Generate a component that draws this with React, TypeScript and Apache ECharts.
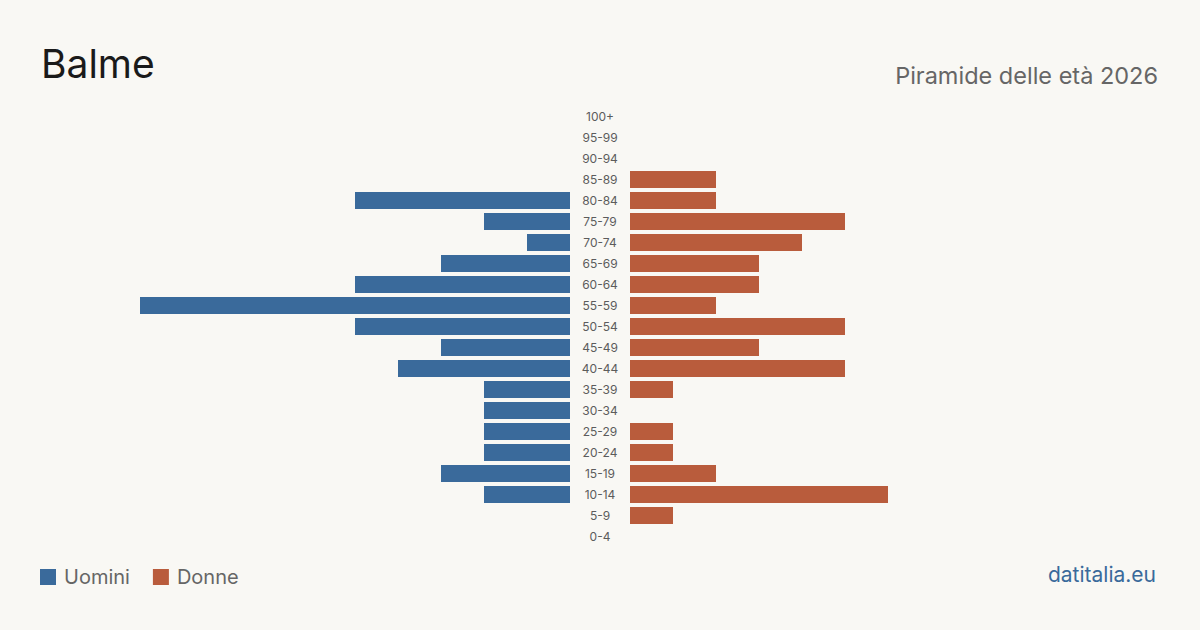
import React, { useEffect, useRef } from "react";
import * as echarts from "echarts";

// Age groups, youngest first (category axis runs bottom to top)
const ageGroups = [
  "0-4", "5-9", "10-14", "15-19", "20-24", "25-29", "30-34", "35-39", "40-44",
  "45-49", "50-54", "55-59", "60-64", "65-69", "70-74", "75-79", "80-84",
  "85-89", "90-94", "95-99", "100+",
];

// Residents per age group
const men = [0, 0, 2, 3, 2, 2, 2, 2, 4, 3, 5, 10, 5, 3, 1, 2, 5, 0, 0, 0, 0];
const women = [0, 1, 6, 2, 1, 1, 0, 1, 5, 3, 5, 2, 3, 3, 4, 5, 2, 2, 0, 0, 0];

const axisMax = 10;

const BG = "#f9f8f4";
const BLUE = "#3a6a9b";
const RED = "#b95c3c";
const FONT = "Inter, 'Noto Sans', sans-serif";

export default function App() {
  const ref = useRef<HTMLDivElement>(null);

  useEffect(() => {
    if (!ref.current) return;
    const chart = echarts.init(ref.current, undefined, { renderer: "svg" });

    const gridTop = 106;
    const gridHeight = 441;

    chart.setOption({
      animation: false,
      backgroundColor: BG,
      textStyle: { fontFamily: FONT },
      grid: [
        { left: 140, width: 430, top: gridTop, height: gridHeight },
        { left: 630, width: 430, top: gridTop, height: gridHeight },
      ],
      xAxis: [
        {
          gridIndex: 0, type: "value", min: 0, max: axisMax, inverse: true,
          show: false,
        },
        {
          gridIndex: 1, type: "value", min: 0, max: axisMax,
          show: false,
        },
      ],
      yAxis: [
        {
          gridIndex: 0, type: "category", data: ageGroups, position: "right",
          axisLine: { show: false }, axisTick: { show: false },
          splitLine: { show: false },
          axisLabel: {
            margin: 30, align: "center", color: "#5c5c5c",
            fontSize: 12, fontFamily: FONT,
          },
        },
        {
          gridIndex: 1, type: "category", data: ageGroups,
          axisLine: { show: false }, axisTick: { show: false },
          splitLine: { show: false }, axisLabel: { show: false },
        },
      ],
      legend: {
        left: 40, top: 567, padding: 0, itemWidth: 16, itemHeight: 16, itemGap: 23,
        icon: "rect",
        textStyle: { color: "#666", fontSize: 20, fontFamily: FONT, padding: [0, 0, 0, 3] },
        data: ["Uomini", "Donne"],
      },
      series: [
        {
          name: "Uomini", type: "bar", xAxisIndex: 0, yAxisIndex: 0,
          data: men, barCategoryGap: "19%", itemStyle: { color: BLUE },
        },
        {
          name: "Donne", type: "bar", xAxisIndex: 1, yAxisIndex: 1,
          data: women, barCategoryGap: "19%", itemStyle: { color: RED },
        },
      ],
      graphic: [
        {
          type: "text", left: 41, top: 44,
          style: { text: "Balme", fontSize: 39, fill: "#1a1a1a", fontFamily: FONT },
        },
        {
          type: "text", right: 42, top: 63,
          style: { text: "Piramide delle età 2026", fontSize: 23.5, fill: "#666", fontFamily: FONT },
        },
        {
          type: "text", right: 44, top: 564,
          style: { text: "datitalia.eu", fontSize: 21, fill: BLUE, fontFamily: FONT },
        },
      ],
    });

    return () => chart.dispose();
  }, []);

  return (
    <div
      ref={ref}
      style={{ position: "absolute", left: 0, top: 0, width: 1200, height: 630, background: BG }}
    />
  );
}
